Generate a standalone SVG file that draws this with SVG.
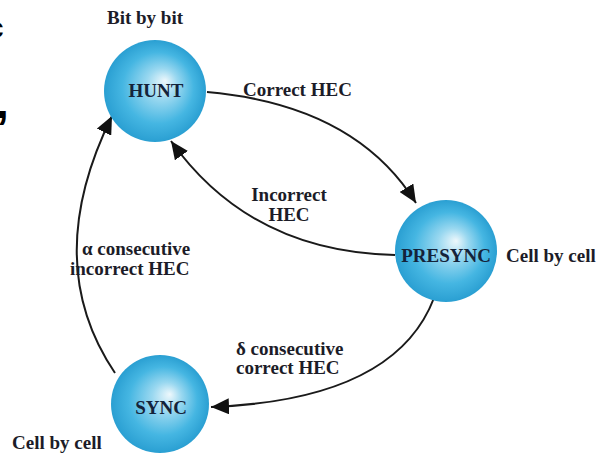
<svg xmlns="http://www.w3.org/2000/svg" width="607" height="456" viewBox="0 0 607 456">
  <defs>
    <radialGradient id="ball" cx="0.5" cy="0.5" r="0.5" fx="0.6" fy="0.4">
      <stop offset="0" stop-color="#eef8fc"/>
      <stop offset="0.3" stop-color="#9ad8f0"/>
      <stop offset="0.7" stop-color="#45b6e2"/>
      <stop offset="1" stop-color="#2a9fd2"/>
    </radialGradient>
    <marker id="arrow" markerUnits="userSpaceOnUse" markerWidth="20" markerHeight="16" refX="18" refY="8" orient="auto">
      <path d="M0,0 L18,8 L0,16 Z" fill="#111"/>
    </marker>
  </defs>
  <style>
    .lbl { font-family: "Liberation Serif", "Times New Roman", serif; font-weight: bold; font-size: 19px; fill: #1c1c28; }
    .node { font-family: "Liberation Serif", "Times New Roman", serif; font-weight: bold; font-size: 19px; fill: #14233a; text-anchor: middle; }
    .edge { fill: none; stroke: #1a1a1a; stroke-width: 2; marker-end: url(#arrow); }
    .frag { font-family: "Liberation Sans", Arial, sans-serif; font-weight: bold; fill: #000; }
  </style>
  <rect width="607" height="456" fill="#ffffff"/>

  <text class="frag" x="-13" y="38" font-size="30">c</text>
  <text class="frag" x="-4" y="118" font-size="46">,</text>

  <g id="connectors">
    <path class="edge" d="M207,92 Q355,105 416,203"/>
    <path class="edge" d="M395,255 Q250,252 171,141"/>
    <path class="edge" d="M434,298 Q395,400 211,407"/>
    <path class="edge" d="M115,373 Q40,262 112,116"/>
    <text class="lbl" x="243" y="96">Correct HEC</text>
    <text class="lbl" x="289" y="201" text-anchor="middle">Incorrect</text>
    <text class="lbl" x="289" y="221" text-anchor="middle">HEC</text>
    <text class="lbl" x="236" y="355">δ consecutive</text>
    <text class="lbl" x="236" y="374">correct HEC</text>
    <text class="lbl" x="82" y="255">α consecutive</text>
    <text class="lbl" x="70" y="275">incorrect HEC</text>
  </g>

  <g id="hunt">
    <circle cx="155" cy="91" r="51" fill="url(#ball)"/>
    <text class="node" x="156" y="97">HUNT</text>
    <text class="lbl" x="145" y="24" text-anchor="middle">Bit by bit</text>
  </g>
  <g id="presync">
    <circle cx="446" cy="251" r="51" fill="url(#ball)"/>
    <text class="node" x="446" y="262">PRESYNC</text>
    <text class="lbl" x="506" y="262">Cell by cell</text>
  </g>
  <g id="sync">
    <circle cx="160" cy="404" r="49" fill="url(#ball)"/>
    <text class="node" x="161" y="414">SYNC</text>
    <text class="lbl" x="12" y="449">Cell by cell</text>
  </g>
</svg>
